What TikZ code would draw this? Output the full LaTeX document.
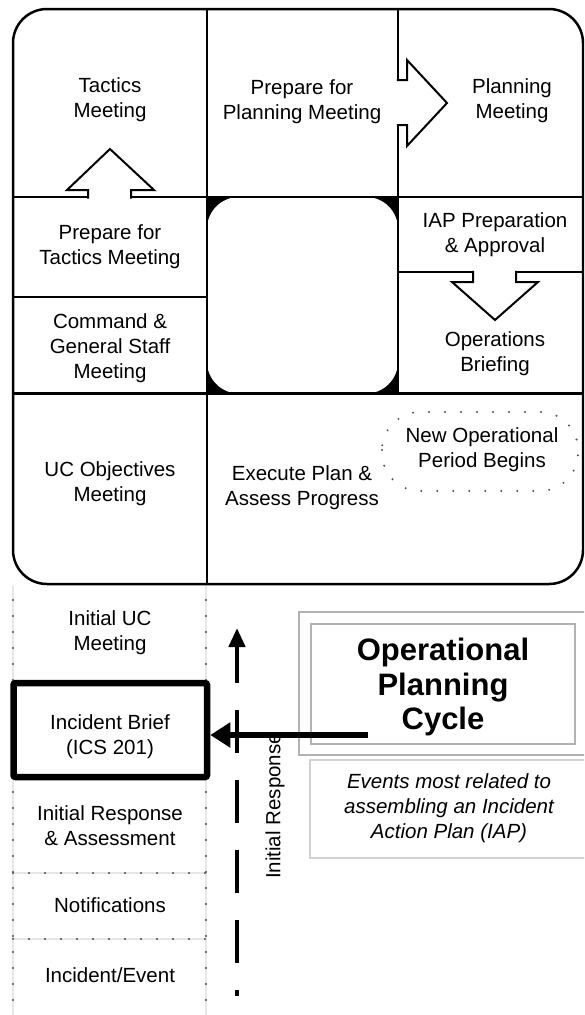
\documentclass[tikz,border=0pt]{standalone}
\usepackage{fontspec}
\setmainfont{Liberation Sans}
\usetikzlibrary{arrows.meta}
\definecolor{dotgray}{HTML}{505050}
\definecolor{linegray}{HTML}{E6E6E6}
\definecolor{boxgray}{HTML}{B2B2B2}
\definecolor{capgray}{HTML}{D2D2D2}
\begin{document}
\begin{tikzpicture}[x=1pt,y=-1pt,
  lbl/.style={font=\fontsize{20.5}{25}\selectfont, align=center, inner sep=0pt},
  gridline/.style={line width=2.5pt, black},
  blockarrow/.style={line width=2pt, black, line join=miter},
  dotline/.style={dotgray, line width=2.2pt, line cap=round, dash pattern=on 0pt off 16pt},
  faintline/.style={linegray, line width=1.8pt},
]
\useasboundingbox (0,0) rectangle (584,1015);
\clip (0,0) rectangle (584,1015);

% centre square with black corners
\fill[black] (207,197) rectangle (398,393.5);
\fill[white, rounded corners=32pt] (207,197) rectangle (398,393.5);

% main grid
\draw[gridline, rounded corners=34pt] (13,9) rectangle (583,584);
\draw[gridline] (207,9) -- (207,584);
\draw[gridline] (398,9) -- (398,393.5);
\draw[gridline] (13,197) -- (583,197);
\draw[gridline] (13,393.5) -- (583,393.5);
\draw[gridline] (13,297) -- (207,297);
\draw[gridline] (398,272) -- (583,272);

% block arrows
\fill[white] (88,199.5) -- (88,190) -- (67,190) -- (110,149) -- (154,190) -- (131,190) -- (131,199.5) -- cycle;
\draw[blockarrow] (88,198.7) -- (88,190) -- (67,190) -- (110,149) -- (154,190) -- (131,190) -- (131,198.7);
\fill[white] (396.5,80) -- (407,80) -- (407,60) -- (447,103) -- (407,146) -- (407,125) -- (396.5,125) -- cycle;
\draw[blockarrow] (396.8,80) -- (407,80) -- (407,60) -- (447,103) -- (407,146) -- (407,125) -- (396.8,125);
\fill[white] (473,270.5) -- (473,282) -- (452,282) -- (495,320) -- (538,282) -- (516,282) -- (516,270.5) -- cycle;
\draw[blockarrow] (473,270.8) -- (473,282) -- (452,282) -- (495,320) -- (538,282) -- (516,282) -- (516,270.8);

% dotted period shape
\draw[dotline, rounded corners=38pt] (382,412) rectangle (578,491);

% cycle labels
\node[lbl] (tactics) at (110,100) {Tactics\\Meeting};
\node[lbl] (prepplan) at (302,102) {Prepare for\\Planning Meeting};
\node[lbl] (planning) at (512,101) {Planning\\Meeting};
\node[lbl] (preptac) at (110,247) {Prepare for\\Tactics Meeting};
\node[lbl] (iap) at (495,235) {IAP Preparation\\\& Approval};
\node[lbl] (cgs) at (110,348) {Command \&\\General Staff\\Meeting};
\node[lbl] (ops) at (495,354) {Operations\\Briefing};
\node[lbl] (ucobj) at (110,484) {UC Objectives\\Meeting};
\node[lbl] (exec) at (302,488) {Execute Plan \&\\Assess Progress};
\node[lbl] (newop) at (482,450) {New Operational\\Period Begins};

% initial response column
\draw[faintline] (13,586) -- (13,1015);
\draw[faintline] (206,586) -- (206,1015);
\draw[faintline] (13,873) -- (206,873);
\draw[faintline] (13,939) -- (206,939);
\draw[dotline] (13,600) -- (13,1015);
\draw[dotline] (206,600) -- (206,1015);
\draw[dotline] (13,873) -- (206,873);
\draw[dotline] (13,939) -- (206,939);

\node[draw, line width=6.5pt, rounded corners=2pt, minimum width=193.5pt, minimum height=94pt, inner sep=0pt] (brief) at (110.25,730) {};
\node[lbl] (initmeet) at (110,633) {Initial UC\\Meeting};
\node[lbl] (brieftxt) at (110,737) {Incident Brief\\(ICS 201)};
\node[lbl] (initassess) at (110,826) {Initial Response\\\& Assessment};
\node[lbl] (notif) at (110,905) {Notifications};
\node[lbl] (event) at (110,975) {Incident/Event};

% dashed initial response arrow
\coordinate (dashbot) at (237,996);
\coordinate (dashtop) at (237,628);
\draw[line width=4.5pt, dash pattern=on 43pt off 27pt, dash phase=37pt, -{Triangle[length=19pt,width=16pt]}] (dashbot) -- (dashtop);
\node[lbl, rotate=90] (initresp) at (275,806) {Initial Response};

% title and caption
\draw[boxgray, line width=1.5pt] (299,612) rectangle (600,755);
\node[draw=boxgray, line width=1.5pt, minimum width=264pt, minimum height=120pt, inner sep=0pt] (titlebox) at (443,684) {};
\node[font=\bfseries\fontsize{31}{34.5}\selectfont, align=center, inner sep=0pt] (title) at (443,687) {Operational\\Planning\\Cycle};
\draw[capgray, line width=1.2pt] (310,760) rectangle (600,858);
\node[lbl, font=\itshape\fontsize{20.5}{25}\selectfont] (caption) at (449,808) {Events most related to\\assembling an Incident\\Action Plan (IAP)};

% pointer arrow to incident brief
\coordinate (arrstart) at (368,735);
\draw[line width=6pt, -{Triangle[length=20pt,width=24pt]}] (arrstart) -- (arrstart -| brief.east);
\end{tikzpicture}
\end{document}
